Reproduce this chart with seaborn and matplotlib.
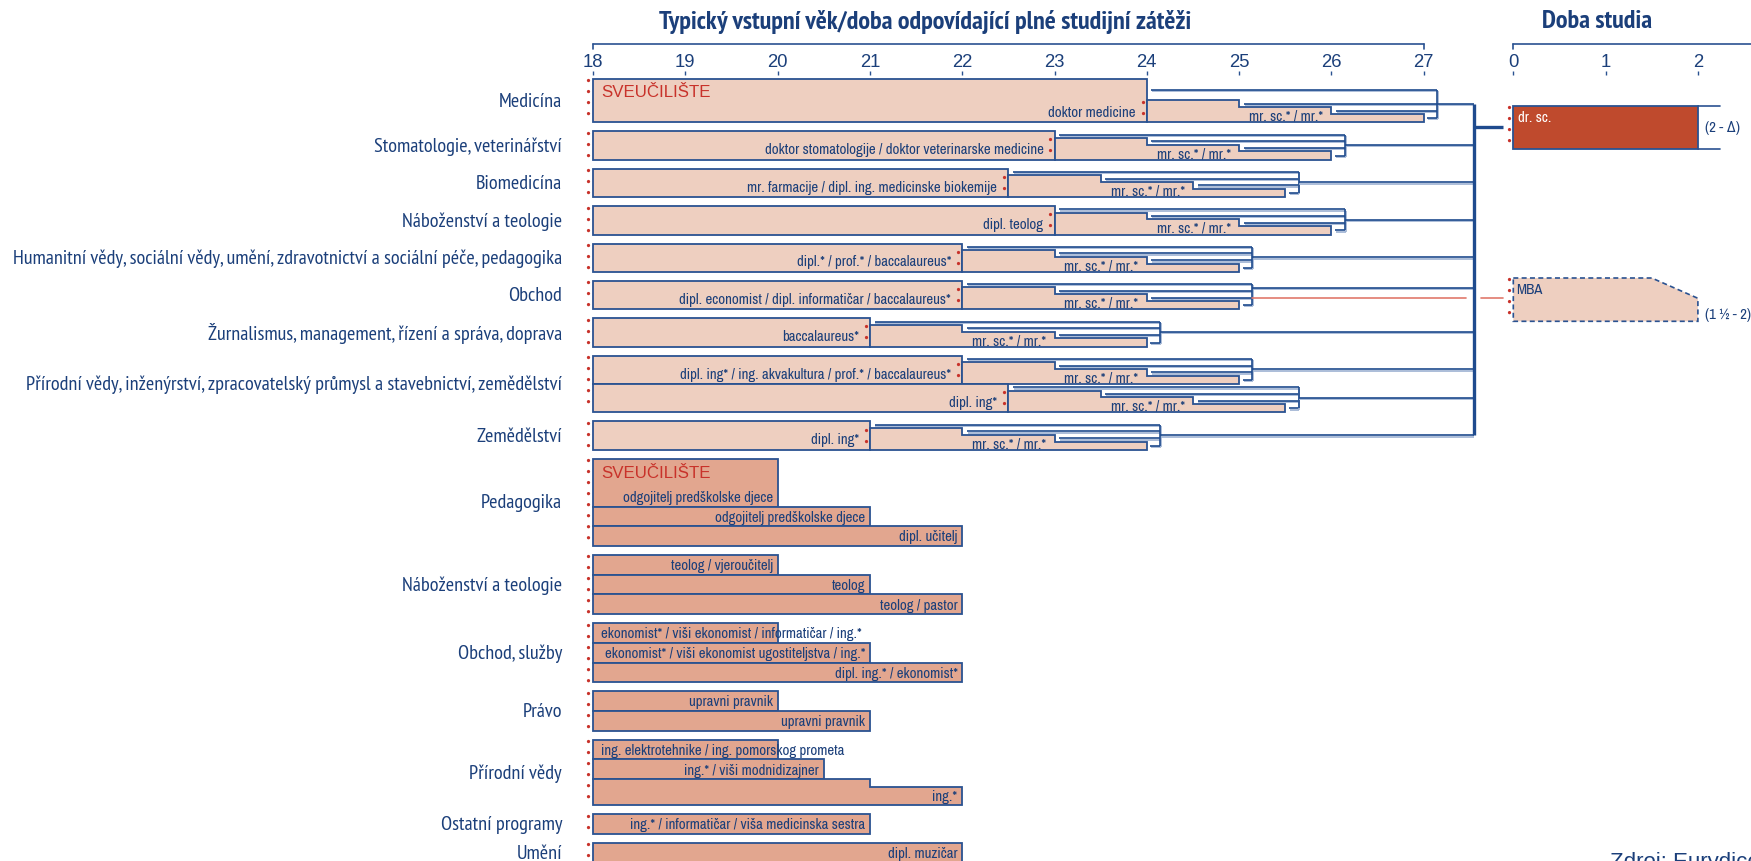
import matplotlib
matplotlib.use("Agg")
import matplotlib.pyplot as plt
import matplotlib.patheffects as pe
import seaborn as sns

# ---------------- data ----------------
age_ticks = list(range(18, 28))
study_ticks = [0, 1, 2]

upper_fields = [
    "Medicína",
    "Stomatologie, veterinářství",
    "Biomedicína",
    "Náboženství a teologie",
    "Humanitní vědy, sociální vědy, umění, zdravotnictví a sociální péče, pedagogika",
    "Obchod",
    "Žurnalismus, management, řízení a správa, doprava",
    "Přírodní vědy, inženýrství, zpracovatelský průmysl a stavebnictví, zemědělství",
    "Přírodní vědy, inženýrství, zpracovatelský průmysl a stavebnictví, zemědělství",
    "Zemědělství",
]
first_end = [24, 23, 22.5, 23, 22, 22, 21, 22, 22.5, 21]
first_degree = [
    "doktor medicine",
    "doktor stomatologije / doktor veterinarske medicine",
    "mr. farmacije / dipl. ing. medicinske biokemije",
    "dipl. teolog",
    "dipl.* / prof.* / baccalaureus*",
    "dipl. economist / dipl. informatičar / baccalaureus*",
    "baccalaureus*",
    "dipl. ing* / ing. akvakultura / prof.* / baccalaureus*",
    "dipl. ing*",
    "dipl. ing*",
]
master_years = [1, 2, 3]
master_label = "mr. sc.* / mr.*"

doctor_years = 2
doctor_label = "dr. sc."
doctor_range = "(2 - Δ)"
mba_years = [1.5, 2]
mba_label = "MBA"
mba_range = "(1 ½ - 2)"

lower_fields = ["Pedagogika", "Náboženství a teologie", "Obchod, služby", "Právo",
                "Přírodní vědy", "Ostatní programy", "Umění"]
lower_end = [[20, 21, 22], [20, 21, 22], [20, 21, 22], [20, 21],
             [20, 20.5, 22], [21], [22]]
lower_degree = [
    ["odgojitelj predškolske djece", "odgojitelj predškolske djece", "dipl. učitelj"],
    ["teolog / vjeroučitelj", "teolog", "teolog / pastor"],
    ["ekonomist* / viši ekonomist / informatičar / ing.*",
     "ekonomist* / viši ekonomist ugostiteljstva / ing.*",
     "dipl. ing.* / ekonomist*"],
    ["upravni pravnik", "upravni pravnik"],
    ["ing. elektrotehnike / ing. pomorskog prometa", "ing.* / viši modnidizajner", "ing.*"],
    ["ing.* / informatičar / viša medicinska sestra"],
    ["dipl. muzičar"],
]
nat_short_end = 21  # the "ing.*" programme also exists as a 3-year variant

university = "SVEUČILIŠTE"
title_left = "Typický vstupní věk/doba odpovídající plné studijní zátěži"
title_right = "Doba studia"
source = "Zdroj: Eurydice"

# ---------------- style ----------------
sns.set_theme(style="white")
HEAD = ["PT Sans Narrow", "Roboto Condensed", "DejaVu Sans"]
SMALL = ["Archivo Narrow", "Roboto Condensed", "DejaVu Sans"]
REGULAR = ["Liberation Sans", "DejaVu Sans"]
plt.rcParams["font.family"] = SMALL

BLUE = "#1B3F7A"
EDGE = "#2A5291"
LINE = "#1F4B8E"
SHADOW = "#9DB2D2"
LIGHT = "#EECFC0"
SALMON = "#E2A68F"
DOCTOR = "#BF4A2D"
RED = "#C8322A"
RED_LINE = "#E0796C"
FS_BAR = 10.7
FS_FIELD = 14.6

W, H, DPI = 1751, 862, 100
PX_YEAR = 92.3
X18 = 593.0          # pixel of age 18
X0_RIGHT = 1513.3    # pixel of year 0 in the study-length panel
AX_TOP = 76

def px_to_age(px):
    return 18 + (px - X18) / PX_YEAR

def px_to_dur(px):
    return (px - X0_RIGHT) / PX_YEAR

fig = plt.figure(figsize=(W / DPI, H / DPI), dpi=DPI)
rect = [0, 0, 1, (H - AX_TOP) / H]
ax = fig.add_axes(rect)
ax.set_xlim(px_to_age(0), px_to_age(W))
ax.set_ylim(H, AX_TOP)
ax2 = fig.add_axes(rect)
ax2.set_xlim(px_to_dur(0), px_to_dur(W))
ax2.set_ylim(H, AX_TOP)
ax2.patch.set_alpha(0)

for a, ticks in ((ax, age_ticks), (ax2, study_ticks)):
    a.xaxis.tick_top()
    a.set_xticks(ticks)
    a.set_xticklabels([str(t) for t in ticks], family=REGULAR)
    a.set_yticks([])
    a.tick_params(axis="x", direction="out", length=3, width=1.0, color=EDGE,
                  pad=0.5, labelsize=13.3, labelcolor=BLUE)
    for s in a.spines.values():
        s.set_visible(False)
    a.grid(False)

shadow = [pe.SimpleLineShadow(offset=(0.6, -0.9), shadow_color=SHADOW, alpha=1.0), pe.Normal()]
line_kw = dict(color=LINE, lw=1.2, solid_capstyle="butt", path_effects=shadow, zorder=3)
dots_kw = dict(color=RED, lw=2.4, ls=(0, (0.01, 3.3)), dash_capstyle="round", zorder=4)

# axis brackets above the tick labels
AXIS_Y = 45
ax.plot([18, 27], [AXIS_Y, AXIS_Y], color=EDGE, lw=1.2, clip_on=False)
for t in (18, 27):
    ax.plot([t, t], [AXIS_Y, AXIS_Y + 5], color=EDGE, lw=1.2, clip_on=False)
ax2.plot([0, px_to_dur(W)], [AXIS_Y, AXIS_Y], color=EDGE, lw=1.2, clip_on=False)
ax2.plot([0, 0], [AXIS_Y, AXIS_Y + 5], color=EDGE, lw=1.2, clip_on=False)

fig.text(925 / W, 1 - 22 / H, title_left, ha="center", va="center", color=BLUE,
         fontsize=18.8, fontweight="bold", family=HEAD)
fig.text(1597 / W, 1 - 22 / H, title_right, ha="center", va="center", color=BLUE,
         fontsize=18.8, fontweight="bold", family=HEAD)

# ---------------- university: upper block ----------------
ROW_H = 28.4
GAP = 9.0
CAPTION_EXTRA = 14.9
STEP_FRAC = [0.77, 0.53, 0.29]
BRACKET_GAP = 0.145
TRUNK_X = 27.54
DOT_X = 17.95
LABEL_X = px_to_age(562)

tops, bots = [], []
y = 80.0
for i in range(len(first_end)):
    h = ROW_H + (CAPTION_EXTRA if i == 0 else 0)
    tops.append(y)
    bots.append(y + h)
    paired = upper_fields[i + 1] == upper_fields[i] if i + 1 < len(upper_fields) else False
    y += h + (0 if paired else GAP)

connect_y = []
red_y = None
for i, A in enumerate(first_end):
    T, B = tops[i], bots[i]
    steps = [B - f * ROW_H for f in STEP_FRAC]
    ends = [A + d for d in master_years]
    ax.barh((T + B) / 2, A - 18, left=18, height=B - T, color=LIGHT,
            edgecolor=EDGE, lw=1.3, zorder=2)
    xs = [A, A, ends[0], ends[0], ends[1], ends[1], ends[2], ends[2]]
    ys = [B, steps[0], steps[0], steps[1], steps[1], steps[2], steps[2], B]
    ax.fill(xs, ys, facecolor=LIGHT, edgecolor=EDGE, lw=1.3, zorder=2)

    # red dotted marks: transition to the second cycle
    ax.plot([A - 0.045, A - 0.045], [steps[0] + 1.5, B], **dots_kw)
    ax.text(A - 0.12, B - 10.5, first_degree[i], ha="right", va="center",
            fontsize=FS_BAR, color=BLUE, zorder=5)
    ax.text(ends[1] - 0.09, B - 6.5, master_label, ha="right", va="center",
            fontsize=FS_BAR, color=BLUE, zorder=5)

    levels = [T] + steps + [B]
    ly = [(levels[k] + levels[k + 1]) / 2 for k in range(4)]
    bx = ends[-1] + BRACKET_GAP
    starts = [A] + ends[:2]
    for k in range(3):
        ax.plot([starts[k] + 0.05, bx], [ly[k], ly[k]], **line_kw)
    ax.plot([ends[-1] + 0.04, bx], [ly[3], ly[3]], **line_kw)
    ax.plot([bx, bx], [ly[0], ly[3]], **line_kw)
    if upper_fields[i] == "Obchod":
        cy = (ly[0] + ly[1]) / 2
        red_y = (ly[2], bx)
    else:
        cy = (ly[0] + ly[3]) / 2
    connect_y.append(cy)
    ax.plot([bx, TRUNK_X], [cy, cy], **line_kw)

# left dotted entry lines and field labels
i = 0
while i < len(upper_fields):
    j = i
    while j + 1 < len(upper_fields) and upper_fields[j + 1] == upper_fields[i]:
        j += 1
    ax.plot([DOT_X, DOT_X], [tops[i] + 1.5, bots[j]], **dots_kw)
    ax.text(LABEL_X, (tops[i] + bots[j]) / 2, upper_fields[i], ha="right",
            va="center", fontsize=FS_FIELD, color=BLUE, family=HEAD)
    i = j + 1

ax.text(18.09, tops[0] + 13, university, ha="left", va="center",
        fontsize=12.2, color=RED, family=REGULAR, zorder=5)

# trunk joining all second cycles to the doctorate
ax.plot([TRUNK_X, TRUNK_X], [connect_y[0], connect_y[-1]], color=LINE, lw=2.4,
        solid_capstyle="butt", zorder=3)

# ---------------- study length panel ----------------
DR_TOP, DR_H = 106.7, 43.3
dr_mid = DR_TOP + DR_H / 2
ax.plot([TRUNK_X, px_to_age(1503.3)], [dr_mid, dr_mid], color=LINE, lw=2.4,
        solid_capstyle="butt", zorder=3)
ax2.barh(dr_mid, doctor_years, left=0, height=DR_H, color=DOCTOR,
         edgecolor=EDGE, lw=1.3, zorder=2)
for yy in (DR_TOP, DR_TOP + DR_H):
    ax2.plot([doctor_years, doctor_years + 0.24], [yy, yy], color=EDGE, lw=1.2)
ax2.plot([-0.047, -0.047], [DR_TOP + 1.5, DR_TOP + DR_H], **dots_kw)
ax2.text(0.05, DR_TOP + 11, doctor_label, ha="left", va="center",
         fontsize=FS_BAR, color="white")
ax2.text(doctor_years + 0.08, dr_mid, doctor_range, ha="left", va="center",
         fontsize=FS_BAR, color=BLUE, family=SMALL)

MBA_TOP = 279.0
mba_bot = MBA_TOP + DR_H
mx = [0, mba_years[0], mba_years[1], mba_years[1], 0]
my = [MBA_TOP, MBA_TOP, MBA_TOP + 20.3, mba_bot, mba_bot]
ax2.fill(mx, my, facecolor=LIGHT, edgecolor=EDGE, lw=1.2, ls=(0, (3, 2)), zorder=2)
ax2.plot([-0.047, -0.047], [MBA_TOP + 1.5, mba_bot], **dots_kw)
ax2.text(0.03, MBA_TOP + 11, mba_label, ha="left", va="center",
         fontsize=FS_BAR, color=BLUE)
ax2.text(mba_years[1] + 0.08, mba_bot - 7, mba_range, ha="left", va="center",
         fontsize=FS_BAR, color=BLUE, family=SMALL)

# business second cycle leading into the MBA
ry, rx = red_y
ax.plot([rx, TRUNK_X - 0.085], [ry, ry], color=RED_LINE, lw=1.2, zorder=3)
ax.plot([TRUNK_X + 0.08, px_to_age(1503.3)], [ry, ry], color=RED_LINE, lw=1.2, zorder=3)

# ---------------- lower block ----------------
LOW_H = 19.7
PED_EXTRA = 28.0
NAT_EXTRA = 6.5
NAT_STEP = 7.8
y = bots[-1] + GAP
for g, field in enumerate(lower_fields):
    g_top = y
    for r, end in enumerate(lower_end[g]):
        h = LOW_H
        if g == 0 and r == 0:
            h += PED_EXTRA
        stepped = field == "Přírodní vědy" and end > nat_short_end
        if stepped:
            h += NAT_EXTRA
        T, B = y, y + h
        if stepped:
            xs = [18, 18, nat_short_end, nat_short_end, end, end]
            ys = [B, T, T, T + NAT_STEP, T + NAT_STEP, B]
            ax.fill(xs, ys, facecolor=SALMON, edgecolor=EDGE, lw=1.3, zorder=2)
        else:
            ax.barh((T + B) / 2, end - 18, left=18, height=h, color=SALMON,
                    edgecolor=EDGE, lw=1.3, zorder=2)
        label = lower_degree[g][r]
        overflow = r == 0 and field in ("Obchod, služby", "Přírodní vědy")
        if overflow:
            ax.text(18.09, B - 9.5, label, ha="left", va="center",
                    fontsize=FS_BAR, color=BLUE, zorder=5)
        else:
            ax.text(end - 0.05, B - 9.5, label, ha="right", va="center",
                    fontsize=FS_BAR, color=BLUE, zorder=5)
        y = B
    g_bot = y
    ax.plot([DOT_X, DOT_X], [g_top + 1.5, g_bot], **dots_kw)
    ax.text(LABEL_X, (g_top + g_bot) / 2, field, ha="right", va="center",
            fontsize=FS_FIELD, color=BLUE, family=HEAD)
    if g == 0:
        ax.text(18.09, g_top + 13.5, university, ha="left", va="center",
                fontsize=12.2, color=RED, family=REGULAR, zorder=5)
    y += GAP

fig.text(1610 / W, 1 - 852 / H, source, ha="left", va="top", color=BLUE,
         fontsize=16, family=REGULAR)

fig.savefig("out.png", dpi=DPI)
